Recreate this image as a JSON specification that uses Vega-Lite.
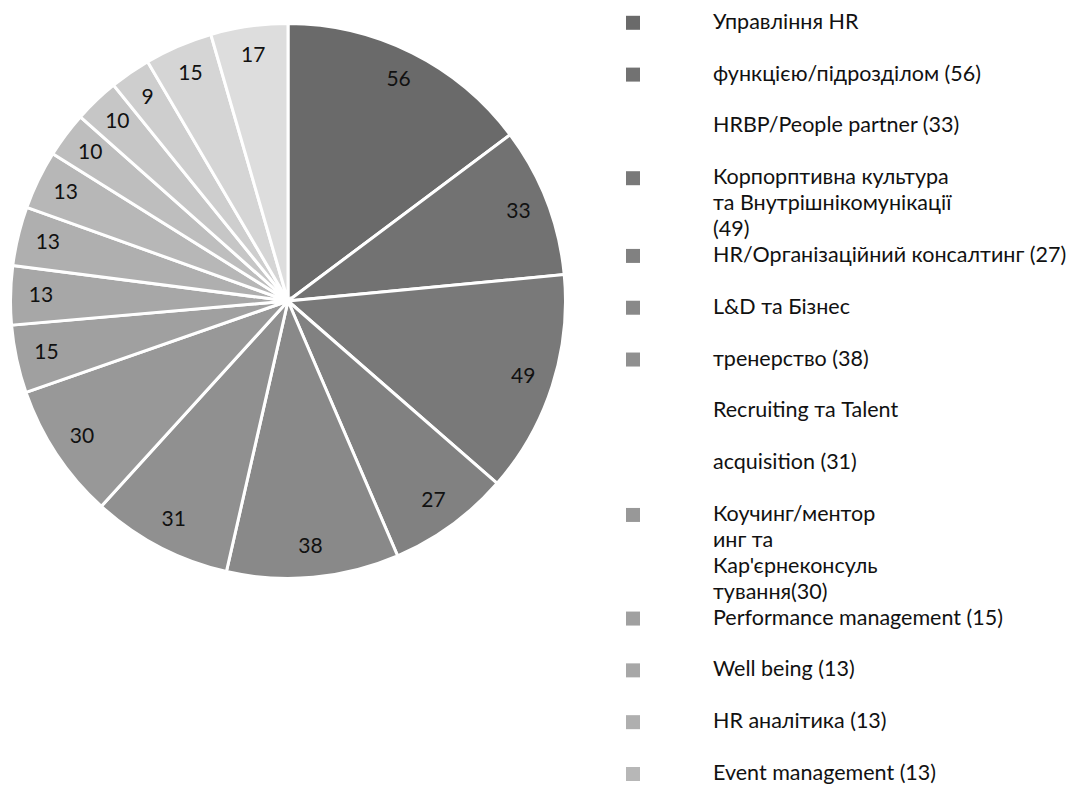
{
  "$schema": "https://vega.github.io/schema/vega-lite/v6.json",
  "padding": 0,
  "background": "white",
  "spacing": 50,
  "config": {"view": {"stroke": null}, "font": "Lato"},
  "datasets": {
    "slices": [
      {"id": 1, "key": "s01", "category": "Управління HR функцією/підрозділом", "value": 56},
      {"id": 2, "key": "s02", "category": "HRBP/People partner", "value": 33},
      {"id": 3, "key": "s03", "category": "Корпорптивна культура та Внутрішнікомунікації", "value": 49},
      {"id": 4, "key": "s04", "category": "HR/Організаційний консалтинг", "value": 27},
      {"id": 5, "key": "s05", "category": "L&D та Бізнес тренерство", "value": 38},
      {"id": 6, "key": "s06", "category": "Recruiting та Talent acquisition", "value": 31},
      {"id": 7, "key": "s07", "category": "Коучинг/менторинг та Кар'єрнеконсультування", "value": 30},
      {"id": 8, "key": "s08", "category": "Performance management", "value": 15},
      {"id": 9, "key": "s09", "category": "Well being", "value": 13},
      {"id": 10, "key": "s10", "category": "HR аналітика", "value": 13},
      {"id": 11, "key": "s11", "category": "Event management", "value": 13},
      {"id": 12, "key": "s12", "category": "Категорія 12", "value": 10},
      {"id": 13, "key": "s13", "category": "Категорія 13", "value": 10},
      {"id": 14, "key": "s14", "category": "Категорія 14", "value": 9},
      {"id": 15, "key": "s15", "category": "Категорія 15", "value": 15},
      {"id": 16, "key": "s16", "category": "Категорія 16", "value": 17}
    ],
    "legendLines": [
      {"slot": 0, "text": "Управління HR", "key": "s01"},
      {"slot": 2, "text": "функцією/підрозділом (56)", "key": "s02"},
      {"slot": 4, "text": "HRBP/People partner (33)", "key": null},
      {"slot": 6, "text": "Корпорптивна культура", "key": "s03"},
      {"slot": 7, "text": "та Внутрішнікомунікації", "key": null},
      {"slot": 8, "text": "(49)", "key": null},
      {"slot": 9, "text": "HR/Організаційний консалтинг (27)", "key": "s04"},
      {"slot": 11, "text": "L&D та Бізнес", "key": "s05"},
      {"slot": 13, "text": "тренерство (38)", "key": "s06"},
      {"slot": 15, "text": "Recruiting та Talent", "key": null},
      {"slot": 17, "text": "acquisition (31)", "key": null},
      {"slot": 19, "text": "Коучинг/ментор", "key": "s07"},
      {"slot": 20, "text": "инг та", "key": null},
      {"slot": 21, "text": "Кар'єрнеконсуль", "key": null},
      {"slot": 22, "text": "тування(30)", "key": null},
      {"slot": 23, "text": "Performance management (15)", "key": "s08"},
      {"slot": 25, "text": "Well being (13)", "key": "s09"},
      {"slot": 27, "text": "HR аналітика (13)", "key": "s10"},
      {"slot": 29, "text": "Event management (13)", "key": "s11"}
    ]
  },
  "hconcat": [
    {
      "width": 576,
      "height": 602,
      "data": {"name": "slices"},
      "encoding": {
        "theta": {"field": "value", "type": "quantitative", "stack": true},
        "order": {"field": "id", "type": "quantitative"}
      },
      "layer": [
        {
          "mark": {"type": "arc", "outerRadius": 277.5, "stroke": "white", "strokeWidth": 3},
          "encoding": {
            "color": {
              "field": "key", "type": "nominal", "legend": null,
              "scale": {
                "domain": ["s01","s02","s03","s04","s05","s06","s07","s08","s09","s10","s11","s12","s13","s14","s15","s16"],
                "range": ["#6a6a6a","#727272","#797979","#818181","#898989","#909090","#989898","#a0a0a0","#a7a7a7","#afafaf","#b7b7b7","#bebebe","#c6c6c6","#cecece","#d5d5d5","#dddddd"]
              }
            }
          }
        },
        {
          "mark": {"type": "text", "radius": 247, "fontSize": 21, "fill": "#111111", "align": "center", "baseline": "middle"},
          "encoding": {"text": {"field": "value", "type": "quantitative"}}
        }
      ]
    },
    {
      "width": 80,
      "height": 789,
      "data": {"name": "legendLines"},
      "encoding": {
        "y": {"field": "slot", "type": "quantitative", "axis": null,
              "scale": {"domain": [-0.88, 29.58], "reverse": true, "nice": false, "zero": false}}
      },
      "layer": [
        {
          "transform": [{"filter": "datum.key != null"}],
          "mark": {"type": "point", "shape": "square", "size": 196, "filled": true, "opacity": 1},
          "encoding": {
            "x": {"datum": "marker", "type": "nominal", "axis": null, "scale": {"type": "point", "domain": ["marker", "label"], "padding": 0}},
            "color": {"field": "key", "type": "nominal", "legend": null}
          }
        },
        {
          "mark": {"type": "text", "align": "left", "baseline": "middle", "fontSize": 21.5, "fill": "#111111"},
          "encoding": {
            "x": {"datum": "label", "type": "nominal", "axis": null},
            "text": {"field": "text", "type": "nominal"}
          }
        }
      ]
    }
  ]
}
